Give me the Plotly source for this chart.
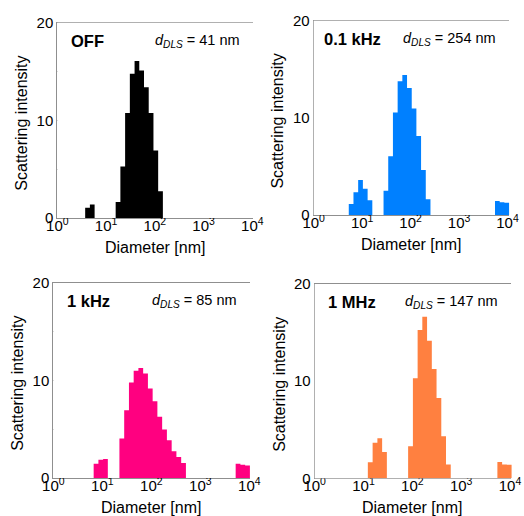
import numpy as np
import plotly.graph_objects as go

# Size distributions (scattering intensity, %) per field condition.
# Diameters are the bin centres in nm; bins are log-spaced with ratio 1.25.
BIN_RATIO = 1.25

off_diam = [4.17, 5.21, 17.6, 22.0, 27.5, 34.4, 43.0, 53.7, 67.1, 83.9, 105, 131]
off_int = [1.06, 1.37, 1.64, 5.28, 10.74, 14.76, 16.09, 15.10, 13.40, 10.74, 6.92, 2.73]

khz01_diam = [5.92, 7.40, 9.25, 11.6, 14.5, 30.9, 38.6, 48.3, 60.4, 75.5, 94.4, 118,
              147, 184, 230, 6170, 7710, 9640]
khz01_int = [1.13, 2.35, 3.60, 2.70, 1.52, 2.50, 6.05, 10.56, 13.78, 14.40, 13.08, 10.97,
             8.12, 4.63, 1.61, 1.44, 1.30, 1.27]

khz1_diam = [7.45, 9.31, 11.6, 25.0, 31.3, 39.1, 48.8, 61.0, 76.3, 95.4, 119, 149, 186,
             233, 291, 364, 455, 5890, 7360, 9200]
khz1_int = [1.45, 1.88, 1.95, 4.04, 6.95, 9.79, 10.99, 11.27, 10.72, 9.18, 7.88, 6.27, 4.97,
            3.87, 2.74, 2.16, 1.54, 1.47, 1.35, 1.28]

mhz1_diam = [13.7, 17.2, 21.5, 26.9, 91.6, 115, 143, 179, 224, 280, 350, 438, 547,
             6170, 7710, 9640]
mhz1_int = [1.65, 3.67, 4.12, 2.71, 3.29, 10.29, 15.27, 16.64, 14.17, 11.25, 8.27, 4.32, 1.41,
            1.68, 1.42, 1.40]

conditions = ["OFF", "0.1 kHz", "1 kHz", "1 MHz"]
d_dls = [41, 254, 85, 147]
colors = ["#000000", "#0080ff", "#ff0080", "#ff8040"]
series = [(off_diam, off_int), (khz01_diam, khz01_int),
          (khz1_diam, khz1_int), (mhz1_diam, mhz1_int)]

x_ticks = [1, 10, 100, 1000, 10000]
x_ticktext = ["10<sup>0</sup>", "10<sup>1</sup>", "10<sup>2</sup>", "10<sup>3</sup>", "10<sup>4</sup>"]
x_minor = [m * 10 ** e for e in range(4) for m in range(2, 10)]
y_ticks = [0, 10, 20]
y_minor = [5, 15]

W, H = 524, 516
FONT = "Liberation Sans, Arial, Helvetica, sans-serif"
FRAME = "#8f8f8f"

# Plot frames in pixels: (left, right, top, bottom)
frames = [(57.3, 252.3, 22.7, 218.0),
          (313.7, 507.5, 20.7, 215.0),
          (53.3, 249.3, 283.0, 478.0),
          (314.7, 510.0, 284.0, 478.3)]
label_offsets = [12, 8, 12, 11]  # left inset of each condition label, px
OVERHANG = 4.0  # px the largest-size bins may run past the right frame


def runs(diam, inten):
    """Split bins into contiguous groups and return step outlines."""
    out = []
    start = 0
    for i in range(1, len(diam) + 1):
        if i == len(diam) or diam[i] / diam[i - 1] > 1.4:
            d = np.array(diam[start:i], float)
            h = list(inten[start:i])
            mids = list(np.sqrt(d[:-1] * d[1:]))
            edges = [d[0] / np.sqrt(BIN_RATIO)] + mids + [d[-1] * np.sqrt(BIN_RATIO)]
            out.append((edges, h + [h[-1]]))
            start = i
    return out


fig = go.Figure()
annotations = []

for k, ((diam, inten), name, dd, col, fr) in enumerate(zip(series, conditions, d_dls, colors, frames)):
    l, r, t, b = fr
    n = k + 1
    xa = "x" if n == 1 else f"x{n}"
    ya = "y" if n == 1 else f"y{n}"
    xb_id = n + 4
    px_per_dec = (r - l) / 4.0

    # empty trace so the framed subplot is registered with its own axes
    fig.add_trace(go.Scatter(x=[], y=[], mode="lines", xaxis=xa, yaxis=ya,
                             showlegend=False, hoverinfo="skip"))
    for edges, hs in runs(diam, inten):
        fig.add_trace(go.Scatter(
            x=edges, y=hs, mode="lines", line=dict(width=0, shape="hv", color=col),
            fill="tozeroy", fillcolor=col, xaxis=f"x{xb_id}", yaxis=ya,
            showlegend=False, hoverinfo="skip"))

    axis_common = dict(showline=True, linecolor=FRAME, linewidth=1, mirror="ticks",
                       ticks="inside", tickcolor=FRAME, tickwidth=1, ticklen=5,
                       showgrid=False, zeroline=False, automargin=False,
                       tickfont=dict(family=FONT, size=15, color="#000"))
    xdom = [l / W, r / W]
    ydom = [1 - b / H, 1 - t / H]
    fig.layout["xaxis" if n == 1 else f"xaxis{n}"] = dict(
        axis_common, type="log", domain=xdom, range=[0, 4], anchor=ya,
        tickmode="array", tickvals=x_ticks, ticktext=x_ticktext,
        ticklabelstandoff=-6,
        minor=dict(ticks="inside", tickmode="array", tickvals=x_minor,
                   ticklen=3, tickcolor=FRAME, tickwidth=1))
    fig.layout["yaxis" if n == 1 else f"yaxis{n}"] = dict(
        axis_common, domain=ydom, range=[0, 20], anchor=xa,
        tickmode="array", tickvals=y_ticks,
        minor=dict(ticks="inside", tickmode="array", tickvals=y_minor,
                   ticklen=5, tickcolor=FRAME, tickwidth=1))
    # same scale as the frame axis, only a few pixels wider so the end bins are not cut
    fig.layout[f"xaxis{xb_id}"] = dict(
        type="log", visible=False, automargin=False, anchor=ya,
        domain=[l / W, (r + OVERHANG) / W], range=[0, 4 + OVERHANG / px_per_dec])

    # condition label and hydrodynamic diameter
    annotations.append(dict(x=(l + label_offsets[k]) / W, y=1 - (t + 18) / H,
                            xref="paper", yref="paper",
                            text=f"<b>{name}</b>", showarrow=False, xanchor="left",
                            yanchor="middle", font=dict(family=FONT, size=16.5, color="#000")))
    annotations.append(dict(x=(r - 10) / W, y=1 - (t + 18) / H, xref="paper", yref="paper",
                            text=f"<i>d</i><sub><i>DLS</i></sub> = {dd} nm", showarrow=False,
                            xanchor="right", yanchor="middle",
                            font=dict(family=FONT, size=14.5, color="#000")))
    annotations.append(dict(x=(l - 36) / W, y=1 - ((t + b) / 2 + 3) / H, xref="paper", yref="paper",
                            text="Scattering intensity", textangle=-90, showarrow=False,
                            xanchor="center", yanchor="middle",
                            font=dict(family=FONT, size=16, color="#000")))
    annotations.append(dict(x=(l + r) / 2 / W, y=1 - (b + 29.5) / H, xref="paper", yref="paper",
                            text="Diameter [nm]", showarrow=False,
                            xanchor="center", yanchor="middle",
                            font=dict(family=FONT, size=16, color="#000")))

fig.update_layout(width=W, height=H, margin=dict(l=0, r=0, t=0, b=0),
                  paper_bgcolor="white", plot_bgcolor="white",
                  annotations=annotations, showlegend=False)

fig.write_html("out.html")
